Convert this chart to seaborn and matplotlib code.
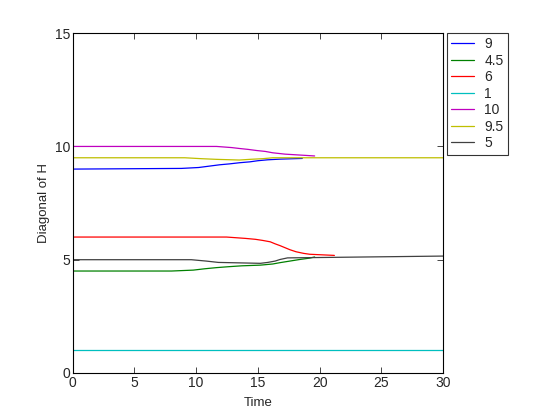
import numpy as np
import pandas as pd
import matplotlib
matplotlib.use("Agg")
import matplotlib.pyplot as plt
import seaborn as sns

# series labels and colours (legend order)
labels = ["9", "4.5", "6", "1", "10", "9.5", "5"]
colors = ["#0000ff", "#008000", "#ff0000", "#00bfbf", "#bf00bf", "#bfbf00", "#404040"]

# values
t_9 = [0, 8.8, 10.2, 11.05, 11.9, 12.7, 13.5, 14.35, 15.0, 15.8, 16.8, 18.6]
v_9 = [9.0, 9.03, 9.07, 9.13, 9.19, 9.23, 9.28, 9.32, 9.37, 9.41, 9.44, 9.47]

t_45 = [0, 8.0, 9.76, 10.7, 11.65, 12.6, 13.7, 15.2, 16.2, 16.8, 17.6, 18.4, 19.2, 19.6]
v_45 = [4.5, 4.5, 4.54, 4.6, 4.65, 4.69, 4.73, 4.76, 4.81, 4.87, 4.94, 5.01, 5.07, 5.12]

t_6 = [0, 12.46, 14.0, 14.8, 15.4, 16.0, 16.4, 16.8, 17.2, 17.6, 18.1, 18.7, 19.2, 21.2]
v_6 = [6.0, 6.0, 5.94, 5.9, 5.85, 5.79, 5.7, 5.62, 5.53, 5.44, 5.35, 5.28, 5.24, 5.19]

t_1 = [0, 30]
v_1 = [1.0, 1.0]

t_10 = [0, 11.65, 12.87, 13.5, 14.2, 14.9, 15.6, 16.2, 17.2, 19.6]
v_10 = [10.0, 10.0, 9.95, 9.91, 9.87, 9.82, 9.78, 9.72, 9.66, 9.58]

t_95 = [0, 9.08, 10.4, 11.65, 13.5, 14.35, 15.4, 16.2, 30]
v_95 = [9.5, 9.5, 9.46, 9.43, 9.40, 9.43, 9.46, 9.5, 9.5]

t_5 = [0, 9.6, 10.8, 11.8, 15.2, 15.8, 16.4, 16.8, 17.4, 30]
v_5 = [5.0, 5.0, 4.94, 4.88, 4.84, 4.88, 4.94, 5.01, 5.08, 5.16]

times = [t_9, t_45, t_6, t_1, t_10, t_95, t_5]
values = [v_9, v_45, v_6, v_1, v_10, v_95, v_5]

rows = []
for lab, ts, vs in zip(labels, times, values):
    for t, v in zip(ts, vs):
        rows.append({"series": lab, "Time": t, "value": v})
df = pd.DataFrame(rows)

sns.set_style("white")
plt.rcParams["font.family"] = ["Liberation Sans", "DejaVu Sans"]

fig = plt.figure(figsize=(5.6, 4.2), dpi=100)
ax = fig.add_axes([0.130, 0.112, 0.661, 0.809])

sns.lineplot(data=df, x="Time", y="value", hue="series", hue_order=labels,
             palette=dict(zip(labels, colors)), estimator=None, sort=False,
             linewidth=0.9, ax=ax)

ax.set_xlim(0, 30)
ax.set_ylim(0, 15)
ax.set_xticks([0, 5, 10, 15, 20, 25, 30])
ax.set_yticks([0, 5, 10, 15])
ax.set_xlabel("Time", fontsize=9.5, labelpad=5)
ax.set_ylabel("Diagonal of H", fontsize=9.5, labelpad=3)
ax.tick_params(direction="in", length=4, width=0.6, labelsize=10,
               top=True, right=True, bottom=True, left=True, pad=2)
for s in ax.spines.values():
    s.set_color("black")
    s.set_linewidth(0.8)

leg = ax.legend(loc="upper left", bbox_to_anchor=(1.01, 1.0), fontsize=10,
                frameon=True, fancybox=False, handlelength=1.7,
                borderaxespad=0, labelspacing=0.18, handletextpad=0.7,
                borderpad=0.3)
leg.get_frame().set_edgecolor("black")
leg.get_frame().set_linewidth(0.8)

fig.savefig("out.png", dpi=100, facecolor="white")
